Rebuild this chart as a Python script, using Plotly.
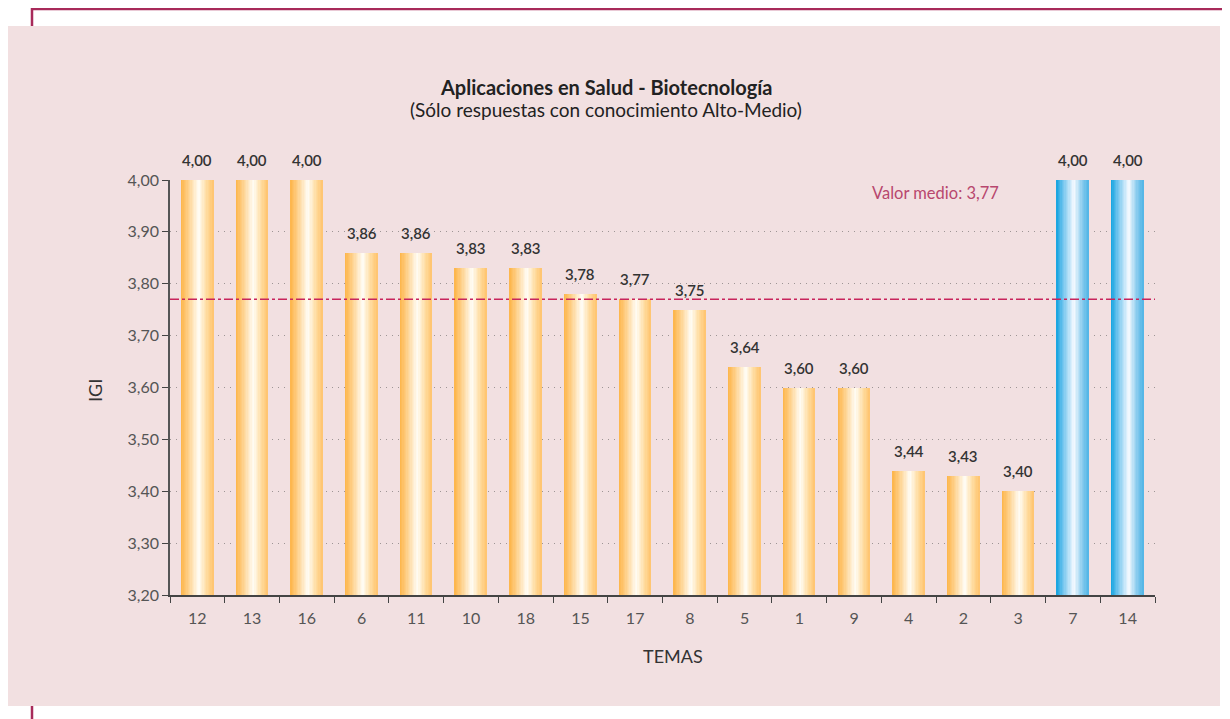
import plotly.graph_objects as go

# ---- data ----
temas = ['12', '13', '16', '6', '11', '10', '18', '15', '17', '8', '5', '1', '9', '4', '2', '3', '7', '14']
igi = [4.00, 4.00, 4.00, 3.86, 3.86, 3.83, 3.83, 3.78, 3.77, 3.75, 3.64, 3.60, 3.60, 3.44, 3.43, 3.40, 4.00, 4.00]
grupo = ['o'] * 16 + ['b'] * 2
valor_medio = 3.77
y_ticks = [3.2, 3.3, 3.4, 3.5, 3.6, 3.7, 3.8, 3.9, 4.0]

FONT = "Lato"
OFF = 8  # page body margin
W, H = 1230 - OFF, 719 - OFF
# plot area in page pixels: x 170..1155, y 180..595
PL, PR, PT, PB = 170, 1155, 180, 595
L, T = PL - OFF, PT - OFF
R, B = W - (PR - OFF), H - (PB - OFF)
PW, PH = PR - PL, PB - PT


def px_x(p):
    return (p - PL) / PW


def px_y(p):
    return (PB - p) / PH


def lerp(c1, c2, t):
    return tuple(round(a + (b - a) * t) for a, b in zip(c1, c2))


def grad(stops, t):
    for (t0, c0), (t1, c1) in zip(stops, stops[1:]):
        if t <= t1:
            return 'rgb(%d,%d,%d)' % lerp(c0, c1, (t - t0) / (t1 - t0) if t1 > t0 else 0)
    return 'rgb(%d,%d,%d)' % stops[-1][1]


orange = [(0.0, (253, 180, 72)), (0.2, (254, 205, 130)), (0.55, (255, 253, 246)), (0.8, (255, 220, 160)), (1.0, (255, 196, 110))]
blue = [(0.0, (18, 163, 224)), (0.2, (110, 195, 238)), (0.55, (246, 250, 255)), (0.8, (140, 205, 238)), (1.0, (80, 180, 230))]

fig = go.Figure()

BW = 0.585
N = 24
sw = BW / N
for i in range(N):
    t = (i + 0.5) / N
    cols = [grad(orange if g == 'o' else blue, t) for g in grupo]
    fig.add_trace(go.Bar(
        x=temas, y=igi,
        width=[sw * (1.25 if i < N - 1 else 1.0)] * len(temas),
        offset=[-BW / 2 + i * sw] * len(temas),
        marker=dict(color=cols, line=dict(width=0)),
        hoverinfo='skip', showlegend=False,
    ))

# value labels (category index positions)
for idx, v in enumerate(igi):
    fig.add_annotation(x=idx, y=v, xref='x', yref='y', text=('%.2f' % v).replace('.', ','), showarrow=False,
                       yshift=20, yanchor='middle', xanchor='center',
                       font=dict(family=FONT, size=15, color='#333333', weight=600))

shapes = [
    # crimson frame
    dict(type='rect', xref='paper', yref='paper', x0=px_x(32), x1=px_x(1224), y0=px_y(760), y1=px_y(9),
         line=dict(color='#A82A5A', width=2.5), fillcolor='rgba(0,0,0,0)', layer='below'),
    # pink panel
    dict(type='rect', xref='paper', yref='paper', x0=px_x(8), x1=px_x(1220), y0=px_y(706), y1=px_y(26),
         line=dict(width=0), fillcolor='#F2E0E1', layer='below'),
    # mean line
    dict(type='line', xref='paper', yref='y', x0=0, x1=1, y0=valor_medio, y1=valor_medio,
         line=dict(color='#C8245C', width=1.5, dash='dashdot'), layer='above'),
]

anns = [
    dict(x=px_x(606), y=px_y(87), text='<b>Aplicaciones en Salud - Biotecnología</b>',
         font=dict(family=FONT, size=20, color='#222222')),
    dict(x=px_x(606), y=px_y(110), text='(Sólo respuestas con conocimiento Alto-Medio)',
         font=dict(family=FONT, size=19, color='#222222')),
    dict(x=px_x(935), y=px_y(193), text='Valor medio: ' + ('%.2f' % valor_medio).replace('.', ','),
         font=dict(family=FONT, size=16.5, color='#B8476E')),
    dict(x=px_x(95), y=px_y(391), text='IGI', textangle=-90,
         font=dict(family=FONT, size=18, color='#333333')),
    dict(x=px_x(673), y=px_y(656), text='TEMAS',
         font=dict(family=FONT, size=18, color='#333333')),
]
for a in anns:
    fig.add_annotation(xref='paper', yref='paper', showarrow=False, xanchor='center', yanchor='middle', **a)

fig.update_layout(
    width=W, height=H,
    margin=dict(l=L, r=R, t=T, b=B, pad=0),
    paper_bgcolor='white', plot_bgcolor='rgba(0,0,0,0)',
    barmode='overlay', bargap=0,
    separators=',.',
    shapes=shapes,
    showlegend=False,
    font=dict(family=FONT, color='#555555'),
    xaxis=dict(type='category', categoryorder='array', categoryarray=temas,
               range=[-0.5, len(temas) - 0.5],
               tickson='boundaries', ticks='outside', ticklen=6, tickcolor='#444444', tickwidth=1.3,
               showline=True, linecolor='#444444', linewidth=1.5, showgrid=False,
               ticklabelstandoff=8,
               tickfont=dict(family=FONT, size=16, color='#555555'), fixedrange=True),
    yaxis=dict(range=[3.2, 4.0], tickvals=y_ticks, tickformat='.2f',
               ticks='outside', ticklen=6, tickcolor='#444444', tickwidth=1.3,
               showline=True, linecolor='#555555', linewidth=1.5,
               showgrid=True, gridcolor='#9E9595', griddash='1px,5px', gridwidth=1.2,
               zeroline=False,
               tickfont=dict(family=FONT, size=16, color='#555555'), fixedrange=True),
)

fig.write_html("out.html")
